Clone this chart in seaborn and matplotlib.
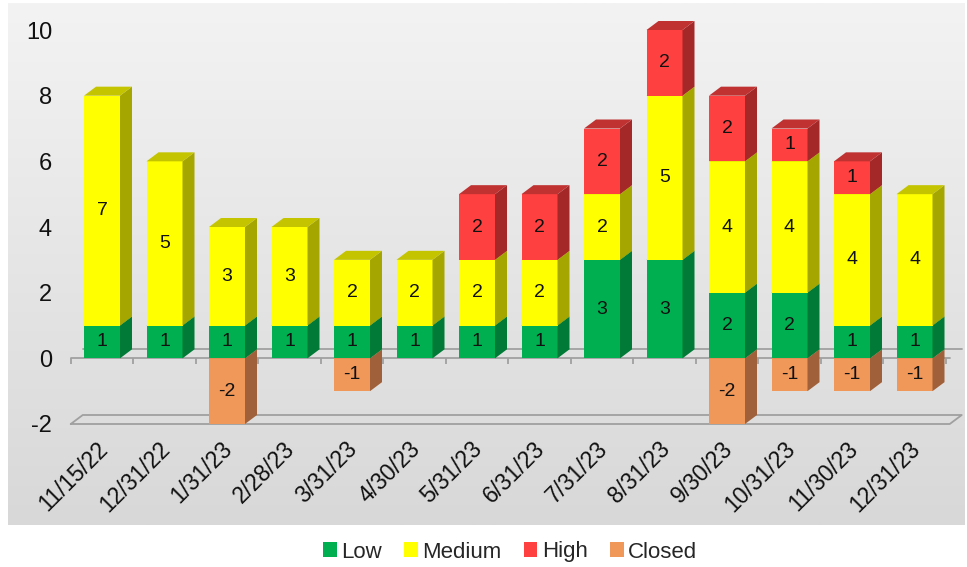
import numpy as np
import pandas as pd
import matplotlib
matplotlib.use("Agg")
import matplotlib.pyplot as plt
import matplotlib.transforms as mtrans
import seaborn as sns
from matplotlib.patches import Polygon, Patch
from matplotlib.colors import LinearSegmentedColormap

# ---- data ----
dates = ["11/15/22", "12/31/22", "1/31/23", "2/28/23", "3/31/23", "4/30/23",
         "5/31/23", "6/31/23", "7/31/23", "8/31/23", "9/30/23", "10/31/23",
         "11/30/23", "12/31/23"]
low = [1, 1, 1, 1, 1, 1, 1, 1, 3, 3, 2, 2, 1, 1]
medium = [7, 5, 3, 3, 2, 2, 2, 2, 2, 5, 4, 4, 4, 4]
high = [0, 0, 0, 0, 0, 0, 2, 2, 2, 2, 2, 1, 1, 0]
closed = [0, 0, -2, 0, -1, 0, 0, 0, 0, 0, -2, -1, -1, -1]
y_ticks = [-2, 0, 2, 4, 6, 8, 10]

# ---- styles ----
front = {"Low": "#00B050", "Medium": "#FFFF00", "High": "#FF4040", "Closed": "#F0975A"}
side = {"Low": "#007A36", "Medium": "#A6A600", "High": "#A42828", "Closed": "#A0613A"}
top = {"Low": "#009A45", "Medium": "#C4C400", "High": "#C03232", "Closed": "#C87A48"}

sns.set_theme(style="white")
plt.rcParams["font.family"] = ["Liberation Sans", "DejaVu Sans"]

W, H = 967, 567
fig = plt.figure(figsize=(W / 100, H / 100), dpi=100)

# gradient background panel
bg = fig.add_axes([8 / W, (H - 525) / H, 957 / W, 522 / H], zorder=0)
grad = np.linspace(0, 1, 256).reshape(-1, 1)
cmap = LinearSegmentedColormap.from_list("g", ["#F3F3F3", "#D8D8D8"])
bg.imshow(grad, aspect="auto", cmap=cmap, extent=[0, 1, 0, 1], origin="upper")
bg.set_axis_off()

ax_left, ax_right = 70.75, 945.75
ax_top, ax_bot = 30, 424
ax = fig.add_axes([ax_left / W, (H - ax_bot) / H, (ax_right - ax_left) / W, (ax_bot - ax_top) / H], zorder=1)
ax.patch.set_alpha(0)

n = len(dates)
xmin, xmax = -0.5, n - 0.5
ymin, ymax = -2, 10
px_x = (ax_right - ax_left) / (xmax - xmin)
px_y = (ax_bot - ax_top) / (ymax - ymin)
dx = 12 / px_x
dy = 9 / px_y

df = pd.DataFrame({"date": dates, "Low": low, "Medium": medium, "High": high, "Closed": closed})

series = [("Closed", np.zeros(n)),
          ("Low", np.zeros(n)),
          ("Medium", np.array(low, float)),
          ("High", np.array(low, float) + np.array(medium, float))]

for z, (name, bottom) in enumerate(series, start=3):
    start = len(ax.patches)
    sns.barplot(data=df, x="date", y=name, order=dates, bottom=bottom,
                color=front[name], saturation=1, width=0.576, errorbar=None,
                linewidth=0, zorder=z, ax=ax)
    bars = ax.patches[start:]
    for b, val in zip(bars, df[name]):
        h = b.get_height()
        if h == 0:
            b.set_visible(False)
            continue
        x0 = b.get_x()
        x1 = x0 + b.get_width()
        y0 = b.get_y()
        y1 = y0 + h
        lo, hi = min(y0, y1), max(y0, y1)
        sp = Polygon([(x1, lo), (x1 + dx, lo + dy), (x1 + dx, hi + dy), (x1, hi)],
                     closed=True, facecolor=side[name], edgecolor="none",
                     zorder=z, clip_on=False)
        ax.add_patch(sp)
        tp = Polygon([(x0, hi), (x1, hi), (x1 + dx, hi + dy), (x0 + dx, hi + dy)],
                     closed=True, facecolor=top[name], edgecolor="none",
                     zorder=z, clip_on=False)
        ax.add_patch(tp)
        b.set_clip_on(False)
        ax.text((x0 + x1) / 2, (y0 + y1) / 2, f"{val:g}", ha="center", va="center",
                fontsize=14, color="#111111", zorder=10)

# floor and zero plane lines
lc = "#A0A0A0"
lw = 1.3
xr = xmax + 4 / px_x
ax.plot([xmin, xr], [0, 0], color=lc, lw=lw, zorder=1, clip_on=False)
ax.plot([xmin + dx, xr + dx], [dy, dy], color=lc, lw=lw, zorder=1, clip_on=False)
ax.plot([xmin, xr, xr + dx, xmin + dx, xmin], [ymin, ymin, ymin + dy, ymin + dy, ymin],
        color=lc, lw=lw, zorder=1, clip_on=False)
ax.vlines(np.arange(n + 1) - 0.5, -6 / px_y, 0, color=lc, lw=lw, zorder=1, clip_on=False)

ax.set_xlim(xmin, xmax)
ax.set_ylim(ymin, ymax)
for s in ax.spines.values():
    s.set_visible(False)
ax.set_xlabel("")
ax.set_ylabel("")
ax.set_yticks(y_ticks)
ax.set_yticklabels([str(t) for t in y_ticks], fontsize=17, color="#111111")
ax.tick_params(axis="y", length=0, pad=13.5)
ax.set_xticks(range(n))
ax.set_xticklabels(dates, rotation=45, ha="right", va="center", rotation_mode="anchor",
                   fontsize=16.5, color="#111111")
ax.tick_params(axis="x", length=0, pad=15.5)
shift = mtrans.ScaledTranslation(2 / 100, 0, fig.dpi_scale_trans)
for lab in ax.get_xticklabels():
    lab.set_transform(lab.get_transform() + shift)

handles = [Patch(facecolor=front[k], edgecolor="none", label=k)
           for k in ["Low", "Medium", "High", "Closed"]]
fig.legend(handles=handles, loc="center", bbox_to_anchor=(510 / W, 1 - 552 / H),
           ncol=4, frameon=False, fontsize=16, handlelength=0.62, handleheight=0.62,
           handletextpad=0.2, columnspacing=1.0)

fig.savefig("out.png", dpi=100)
